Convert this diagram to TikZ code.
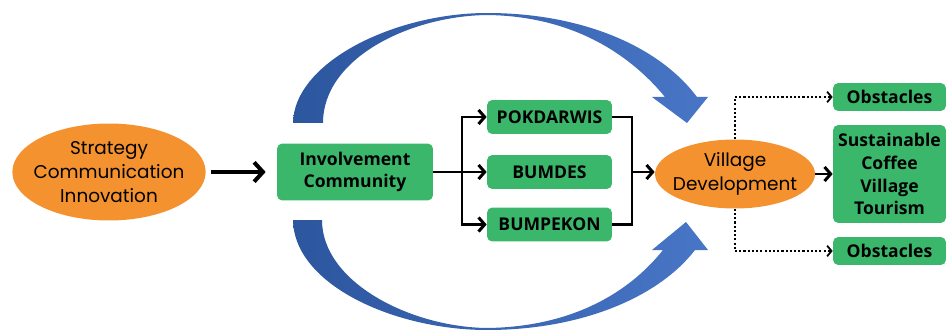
\documentclass[tikz,border=0pt]{standalone}
\usepackage{fontspec}
\newfontfamily\ovalfont{Poppins}
\newfontfamily\boxfont{Open Sans}
\usetikzlibrary{arrows.meta,shapes.geometric}

\definecolor{ovalorange}{RGB}{244,146,47}
\definecolor{boxgreen}{RGB}{59,183,108}
\definecolor{arrowblue}{RGB}{72,118,198}
\definecolor{arrowdark}{RGB}{44,86,158}

\begin{document}
\begin{tikzpicture}[x=0.02cm,y=-0.02cm,
        oval/.style={ellipse,fill=ovalorange,inner xsep=-4pt,inner ysep=0pt,align=center,
            font=\ovalfont\fontsize{10.5}{13.5}\selectfont},
        greenbox/.style={rectangle,rounded corners=3pt,fill=boxgreen,inner sep=0pt,align=center,
            font=\boxfont\bfseries\fontsize{10}{13}\selectfont},
        wire/.style={line width=1.7pt},
        link/.style={wire,-{Straight Barb[length=3.5pt,width=8pt]}},
        biglink/.style={line width=2.3pt,-{Straight Barb[length=5pt,width=11pt]}},
        dotlink/.style={line width=1.2pt,dash pattern=on 1.2pt off 1.2pt,
            -{Straight Barb[length=2.5pt,width=6pt,line width=1pt]}},
        bluearrow/.style={left color=arrowdark,right color=arrowblue}]

        % ---------
        % Frame.
        % ---------
        \useasboundingbox (0,0) rectangle (947,331);

        % Heights of the rows [px].
        \pgfmathsetmacro{\yMain}{172}    % Main row.
        \pgfmathsetmacro{\yTop}{117}     % Upper branch.
        \pgfmathsetmacro{\yLow}{224.5}   % Lower branch.

        % --------------
        % Curved arrows.
        % --------------

        % Upper curved arrow.
        \shade[bluearrow] (293,123) .. controls (294,62) and (395,13) .. (487,13)
            .. controls (580,13) and (658,45) .. (697,97)
            -- (708,97) -- (687,123) -- (652,97) -- (665,97)
            .. controls (628,52) and (570,16) .. (487,15)
            .. controls (410,16) and (323,58) .. (323,123) -- cycle;

        % Lower curved arrow.
        \shade[bluearrow] (293,220) .. controls (294,285) and (395,330) .. (487,330)
            .. controls (580,330) and (658,298) .. (695,250)
            -- (708,250) -- (686,222) -- (652,250) -- (663,250)
            .. controls (628,294) and (570,327) .. (487,328)
            .. controls (410,327) and (322,282) .. (322,220) -- cycle;

        % ------
        % Nodes.
        % ------
        \node[oval,minimum width=3.84cm,minimum height=1.94cm] (strat) at (109,\yMain)
            {Strategy\\Communication\\Innovation};
        \node[greenbox,minimum width=3.12cm,minimum height=1.14cm] (inv) at (355,\yMain)
            {Involvement\\Community};

        \node[greenbox,minimum width=2.5cm,minimum height=0.68cm] (pok) at (549.5,\yTop) {POKDARWIS};
        \node[greenbox,minimum width=2.5cm,minimum height=0.68cm] (bum) at (549.5,\yMain) {BUMDES};
        \node[greenbox,minimum width=2.5cm,minimum height=0.68cm] (bumpk) at (549.5,\yLow) {BUMPEKON};

        \node[oval,minimum width=3.2cm,minimum height=1.38cm] (vd) at (735,174)
            {Village\\Development};

        \node[greenbox,minimum width=2.26cm,minimum height=0.56cm] (obs1) at (889.5,97) {Obstacles};
        \node[greenbox,minimum width=2.26cm,minimum height=1.96cm] (sust) at (889.5,174)
            {Sustainable\\Coffee\\Village\\Tourism};
        \node[greenbox,minimum width=2.26cm,minimum height=0.56cm] (obs2) at (889.5,251) {Obstacles};

        % -----------
        % Connectors.
        % -----------
        \coordinate (split) at (462,\yMain);
        \coordinate (merge) at (632,\yMain);

        % Strategy to community.
        \draw[biglink,shorten <=0.1cm,shorten >=0.22cm] (strat.east) -- (inv.west);

        % Community to the three bodies.
        \draw[wire] (inv.east) -- (split);
        \draw[link] (split) |- (pok.west);
        \draw[link] (split) -- (bum.west);
        \draw[link] (split) |- (bumpk.west);

        % Bodies to village development.
        \draw[wire] (pok.east) -| (merge);
        \draw[wire] (bumpk.east) -| (merge);
        \draw[link] (merge) -- (merge -| vd.west);

        % Village development to outcomes.
        \draw[link] (vd.east) -- (sust.west);
        \draw[dotlink] (vd.north) |- (obs1.west);
        \draw[dotlink] (vd.south) |- (obs2.west);

\end{tikzpicture}
\end{document}
